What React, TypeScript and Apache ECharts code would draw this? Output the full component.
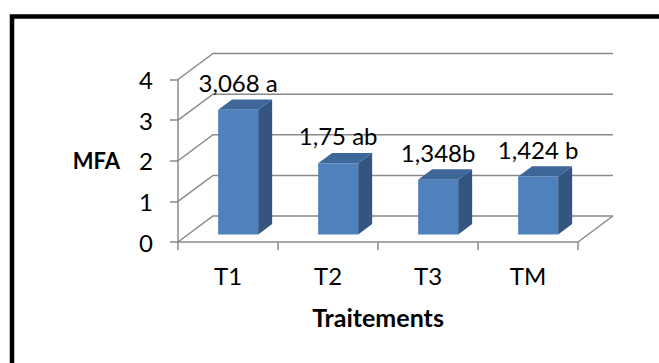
import React, { useEffect, useRef } from "react";
import * as echarts from "echarts";

// Treatments and their mean MFA values with significance letters
const categories = ["T1", "T2", "T3", "TM"];
const values = [3.068, 1.75, 1.348, 1.424];
const groupLetters = [" a", " ab", "b", " b"];
const yTicks = [0, 1, 2, 3, 4];

// Pseudo-3D geometry: depth offset of the back wall, bar placement in depth
const DEPTH_X = 35;
const DEPTH_Y = -26;
const BAR_FRONT = 0.29;
const BAR_BACK = 0.69;
const BAR_WIDTH = 0.4;

const GRID_COLOR = "#8a8a8a";
const FONT = "Lato, 'Noto Sans', sans-serif";

const labelText = (v: number, i: number) => String(v).replace(".", ",") + groupLetters[i];

export default function App() {
  const ref = useRef<HTMLDivElement>(null);

  useEffect(() => {
    if (!ref.current) return;
    const chart = echarts.init(ref.current, undefined, { renderer: "svg" });

    const wallItem = (_params: any, api: any) => {
      const v = api.value(1);
      const band = api.size([1, 0])[0];
      const p = api.coord([0, v]);
      const x0 = p[0] - band / 2;
      const xEnd = x0 + band * categories.length;
      const y = p[1];
      const lineStyle = { stroke: GRID_COLOR, lineWidth: 1.5, fill: null };
      const children: any[] = [
        {
          type: "polyline",
          shape: {
            points: [
              [x0, y],
              [x0 + DEPTH_X, y + DEPTH_Y],
              [xEnd + DEPTH_X, y + DEPTH_Y],
            ],
          },
          style: lineStyle,
        },
      ];
      if (v === 0) {
        children.push({
          type: "line",
          shape: { x1: xEnd, y1: y, x2: xEnd + DEPTH_X, y2: y + DEPTH_Y },
          style: lineStyle,
        });
      }
      return { type: "group", children };
    };

    const barItem = (params: any, api: any) => {
      const idx = api.value(0);
      const v = api.value(1);
      const base = api.coord([idx, 0]);
      const top = api.coord([idx, v]);
      const band = api.size([1, 0])[0];
      const w = band * BAR_WIDTH;
      const fdx = DEPTH_X * BAR_FRONT;
      const fdy = DEPTH_Y * BAR_FRONT;
      const bdx = DEPTH_X * BAR_BACK;
      const bdy = DEPTH_Y * BAR_BACK;
      const xl = base[0] - w / 2;
      const xr = base[0] + w / 2;
      const yb = base[1];
      const yt = top[1];
      return {
        type: "group",
        children: [
          {
            type: "polygon",
            shape: {
              points: [
                [xr + fdx, yt + fdy],
                [xr + fdx, yb + fdy],
                [xr + bdx, yb + bdy],
                [xr + bdx, yt + bdy],
              ],
            },
            style: { fill: "#33557f" },
          },
          {
            type: "polygon",
            shape: {
              points: [
                [xl + fdx, yt + fdy],
                [xr + fdx, yt + fdy],
                [xr + bdx, yt + bdy],
                [xl + bdx, yt + bdy],
              ],
            },
            style: { fill: "#3d6699" },
          },
          {
            type: "rect",
            shape: { x: xl + fdx, y: yt + fdy, width: w, height: yb - yt },
            style: { fill: "#4f81bd" },
          },
          {
            type: "text",
            x: base[0] + fdx,
            y: yt + bdy - 5,
            style: {
              text: labelText(values[params.dataIndex], params.dataIndex),
              fill: "#000",
              fontSize: 24,
              fontFamily: FONT,
              align: "center",
              verticalAlign: "bottom",
            },
          },
        ],
      };
    };

    chart.setOption({
      animation: false,
      backgroundColor: "#fff",
      grid: { left: 178, right: 81, top: 79.5, bottom: 121, containLabel: false },
      xAxis: {
        type: "category",
        data: categories,
        boundaryGap: true,
        name: "Traitements",
        nameLocation: "middle",
        nameGap: 75,
        nameTextStyle: {
          fontSize: 25,
          fontWeight: "bold",
          fontFamily: FONT,
          color: "#000",
          verticalAlign: "middle",
        },
        axisLine: { show: true, lineStyle: { color: GRID_COLOR, width: 1.5 } },
        axisTick: { show: true, length: 8, lineStyle: { color: GRID_COLOR, width: 1.5 } },
        axisLabel: { fontSize: 24, fontFamily: FONT, color: "#000", margin: 21 },
        splitLine: { show: false },
      },
      yAxis: {
        type: "value",
        min: 0,
        max: 4,
        interval: 1,
        name: "MFA",
        nameLocation: "middle",
        nameRotate: 0,
        nameGap: 58,
        nameTextStyle: {
          fontSize: 22,
          fontWeight: "bold",
          fontFamily: FONT,
          color: "#000",
          align: "right",
          verticalAlign: "middle",
        },
        axisLine: { show: true, lineStyle: { color: GRID_COLOR, width: 1.5 } },
        axisTick: { show: true, length: 8, lineStyle: { color: GRID_COLOR, width: 1.5 } },
        axisLabel: { fontSize: 24, fontFamily: FONT, color: "#000", margin: 25 },
        splitLine: { show: false },
      },
      graphic: [
        {
          type: "rect",
          shape: { x: 12, y: 16.5, width: 720, height: 420 },
          style: { fill: null, stroke: "#000", lineWidth: 4.5 },
          z: 100,
        },
      ],
      series: [
        {
          type: "custom",
          clip: false,
          renderItem: wallItem,
          data: yTicks.map((v) => [0, v]),
          encode: { x: 0, y: 1 },
          z: 1,
          silent: true,
        },
        {
          type: "custom",
          clip: false,
          renderItem: barItem,
          data: values.map((v, i) => [i, v]),
          encode: { x: 0, y: 1 },
          z: 2,
        },
      ],
    });

    return () => chart.dispose();
  }, []);

  return (
    <div
      ref={ref}
      style={{ position: "fixed", left: 0, top: 0, width: 659, height: 363, background: "#fff" }}
    />
  );
}
